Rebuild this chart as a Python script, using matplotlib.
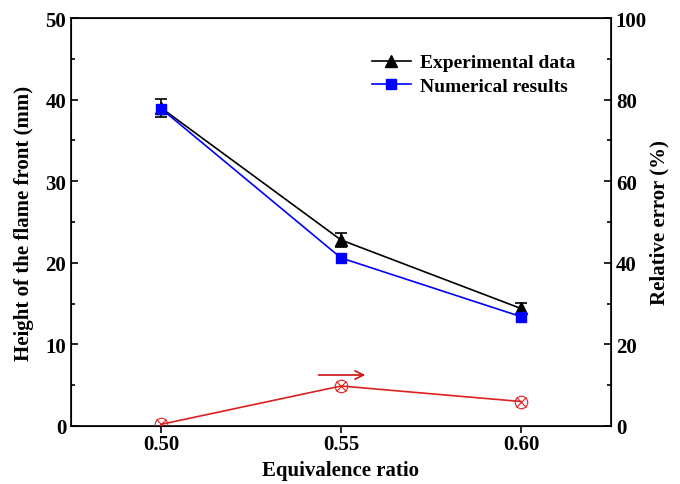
import matplotlib
matplotlib.use("Agg")
import matplotlib.pyplot as plt
from matplotlib.ticker import MultipleLocator
from matplotlib.lines import Line2D

plt.rcParams['font.family'] = ['Liberation Serif', 'DejaVu Serif']
plt.rcParams['font.weight'] = 'bold'

# data
phi = [0.50, 0.55, 0.60]
height_exp = [39.0, 22.8, 14.4]
height_err = [1.1, 0.85, 0.7]
height_num = [38.9, 20.6, 13.4]
rel_error = [0.4, 9.8, 6.0]

fig = plt.figure(figsize=(6.8, 4.85), dpi=100)
ax = fig.add_axes([0.1044, 0.1196, 0.7941, 0.8412])

ax.errorbar(phi, height_exp, yerr=height_err, color='black', lw=1.2, marker='^',
            ms=8, capsize=4, elinewidth=1.2, capthick=1.2, zorder=3)
ax.plot(phi, height_num, color='#0000ff', lw=1.2, marker='s', ms=7.5, zorder=4)

ax.set_xlim(0.475, 0.625)
ax.set_ylim(0, 50)
ax.set_xticks(phi)
ax.set_xticklabels(['0.50', '0.55', '0.60'])
ax.yaxis.set_major_locator(MultipleLocator(10))
ax.yaxis.set_minor_locator(MultipleLocator(5))
ax.tick_params(axis='x', direction='out', length=5, width=1.2, labelsize=15, pad=1)
ax.tick_params(axis='y', which='major', direction='in', length=5, width=1.2, labelsize=15)
ax.tick_params(axis='y', which='minor', direction='in', length=3, width=1.2)
ax.set_xlabel('Equivalence ratio', fontsize=15, fontweight='bold', labelpad=4)
ax.set_ylabel('Height of the flame front (mm)', fontsize=15, fontweight='bold', labelpad=8)
for s in ax.spines.values():
    s.set_linewidth(1.2)

handles = [
    Line2D([], [], color='black', lw=1.2, marker='^', ms=8),
    Line2D([], [], color='#0000ff', lw=1.2, marker='s', ms=7.5),
]
ax.legend(handles, ['Experimental data', 'Numerical results'], loc='upper right',
          bbox_to_anchor=(0.967, 0.955), frameon=False, fontsize=14,
          handlelength=2.0, handletextpad=0.5, labelspacing=0.3)

ax2 = ax.twinx()
ax2.plot(phi, rel_error, color='#dd2020', lw=1.2, marker='o', ms=9,
         mfc='none', mec='#dd2020', mew=0.8)
ax2.plot(phi, rel_error, ls='none', marker='x', ms=7, mec='#dd2020', mew=0.8)
ax2.set_ylim(0, 100)
ax2.yaxis.set_major_locator(MultipleLocator(20))
ax2.yaxis.set_minor_locator(MultipleLocator(10))
ax2.tick_params(axis='y', which='major', direction='in', length=5, width=1.2, labelsize=15)
ax2.tick_params(axis='y', which='minor', direction='in', length=3, width=1.2)
ax2.set_ylabel('Relative error (%)', fontsize=15, fontweight='bold', labelpad=2)

# arrow pointing to the right axis
ax2.annotate('', xy=(0.5575, 12.5), xytext=(0.543, 12.5),
             arrowprops=dict(arrowstyle='->', color='#cc1010', lw=1.2, mutation_scale=15))

fig.savefig('out.png', dpi=100)
